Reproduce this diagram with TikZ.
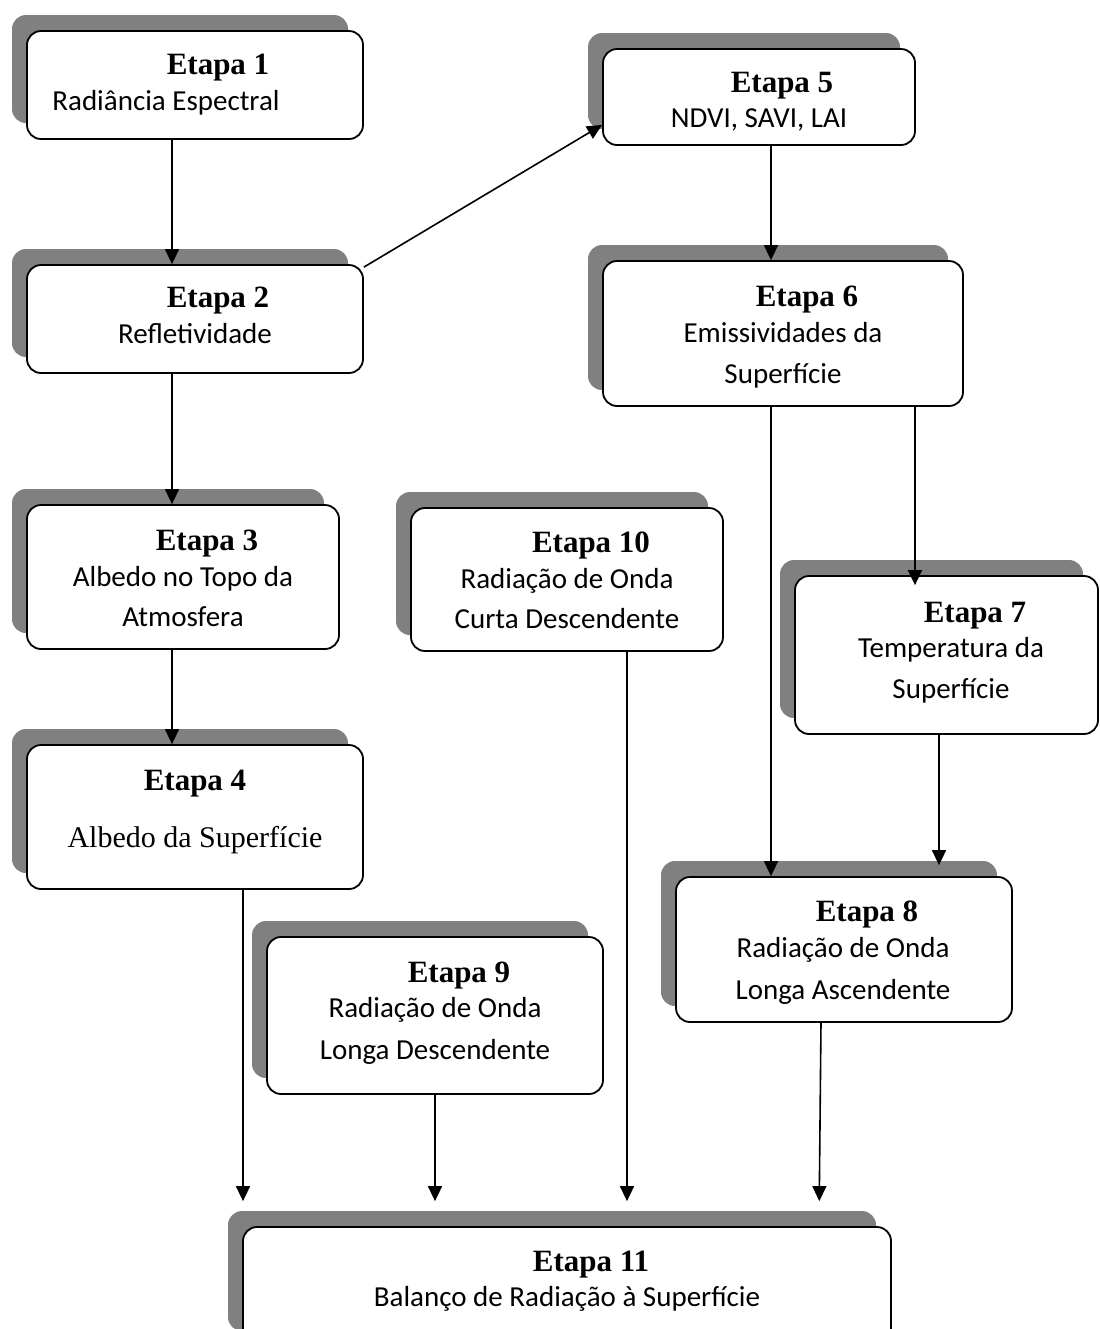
\documentclass[tikz,border=0pt]{standalone}
\usepackage{fontspec}
\setmainfont{Liberation Serif}
\newfontfamily\calibri{Carlito}
\usetikzlibrary{arrows.meta,shadows,calc}
\definecolor{shadowgray}{RGB}{128,128,128}

\begin{document}
\begin{tikzpicture}[x=0.5pt, y=-0.5pt, >={Triangle[width=7pt,length=7.5pt]},
  stepbox/.style={draw, line width=0.9pt, rounded corners=7pt, fill=white, inner sep=0pt,
    drop shadow={shadow xshift=-7.5pt, shadow yshift=8pt, fill=shadowgray, opacity=1}},
  steptitle/.style={anchor=base, inner sep=0pt, font=\fontsize{15.5}{18}\selectfont\bfseries},
  steptext/.style={anchor=base, inner sep=0pt, font=\calibri\fontsize{14.5}{17}\selectfont},
  arr/.style={->, line width=0.8pt}]
\path[use as bounding box, clip] (0,0) rectangle (1099,1329);
% boxes
\node[stepbox, minimum width=168pt, minimum height=54pt] (e1) at (195,85) {};
\node[stepbox, minimum width=168pt, minimum height=54pt] (e2) at (195,319) {};
\node[stepbox, minimum width=156pt, minimum height=72pt] (e3) at (183,577) {};
\node[stepbox, minimum width=168pt, minimum height=72pt] (e4) at (195,817) {};
\node[stepbox, minimum width=156pt, minimum height=48pt] (e5) at (759,97) {};
\node[stepbox, minimum width=180pt, minimum height=72.5pt] (e6) at (783,333.5) {};
\node[stepbox, minimum width=151.5pt, minimum height=79pt] (e7) at (946.5,655) {};
\node[stepbox, minimum width=168pt, minimum height=72.5pt] (e8) at (844,949.5) {};
\node[stepbox, minimum width=168pt, minimum height=78.5pt] (e9) at (435,1015.5) {};
\node[stepbox, minimum width=156pt, minimum height=71.5pt] (e10) at (567,579.5) {};
\node[stepbox, minimum width=324pt, minimum height=60pt] (e11) at (567,1287) {};
% texts
\node[steptitle] (t1) at (218,74) {Etapa 1};
\node[steptext] (b1) at (166,110) {Radiância Espectral};
\node[steptitle] (t2) at (218,307) {Etapa 2};
\node[steptext] (b2) at (195,343) {Refletividade};
\node[steptitle] (t3) at (207,550) {Etapa 3};
\node[steptext] (b3a) at (183,586) {Albedo no Topo da};
\node[steptext] (b3b) at (183,626) {Atmosfera};
\node[steptitle] (t4) at (195,790) {Etapa 4};
\node[anchor=base, inner sep=0pt, font=\fontsize{15}{18}\selectfont] (b4) at (195,847) {Albedo da Superfície};
\node[steptitle] (t5) at (782,92) {Etapa 5};
\node[steptext] (b5) at (759,127) {NDVI, SAVI, LAI};
\node[steptitle] (t6) at (807,306) {Etapa 6};
\node[steptext] (b6a) at (783,342) {Emissividades da};
\node[steptext] (b6b) at (783,383) {Superfície};
\node[steptitle] (t7) at (975,622) {Etapa 7};
\node[steptext] (b7a) at (951,657) {Temperatura da};
\node[steptext] (b7b) at (951,698) {Superfície};
\node[steptitle] (t8) at (867,921) {Etapa 8};
\node[steptext] (b8a) at (843,957) {Radiação de Onda};
\node[steptext] (b8b) at (843,999) {Longa Ascendente};
\node[steptitle] (t9) at (459,982) {Etapa 9};
\node[steptext] (b9a) at (435,1017) {Radiação de Onda};
\node[steptext] (b9b) at (435,1059) {Longa Descendente};
\node[steptitle] (t10) at (591,552) {Etapa 10};
\node[steptext] (b10a) at (567,588) {Radiação de Onda};
\node[steptext] (b10b) at (567,628) {Curta Descendente};
\node[steptitle] (t11) at (591,1271) {Etapa 11};
\node[steptext] (b11) at (567,1306) {Balanço de Radiação à Superfície};
% arrow columns
\coordinate (c1) at (172,0);
\coordinate (c4) at (243,0);
\coordinate (c9) at (435,0);
\coordinate (c10) at (627,0);
\coordinate (c5) at (771,0);
\coordinate (c6) at (915,0);
\coordinate (c7) at (939,0);
\coordinate (c8) at (821,0);
\coordinate (c8b) at (819,0);
% arrows
\draw[arr] (e1.south -| c1) -- (e2.north -| c1);
\draw[arr] (e2.south -| c1) -- (e3.north -| c1);
\draw[arr] (e3.south -| c1) -- (e4.north -| c1);
\draw[arr] ($(e2.north east)+(0,3)$) -- ($(e5.south west)+(0,-21)$);
\draw[arr] (e5.south -| c5) -- (e6.north -| c5);
\draw[arr, shorten >=-5pt] (e6.south -| c6) -- (e7.north -| c6);
\draw[arr] (e6.south -| c5) -- (e8.north -| c5);
\draw[arr, shorten >=5.5pt] (e7.south -| c7) -- (e8.north -| c7);
\draw[arr, shorten >=12.5pt] (e4.south -| c4) -- (e11.north -| c4);
\draw[arr, shorten >=12.5pt] (e9.south -| c9) -- (e11.north -| c9);
\draw[arr, shorten >=12.5pt] (e10.south -| c10) -- (e11.north -| c10);
\draw[arr, shorten >=12.5pt] (e8.south -| c8) -- (e11.north -| c8b);
\end{tikzpicture}
\end{document}
